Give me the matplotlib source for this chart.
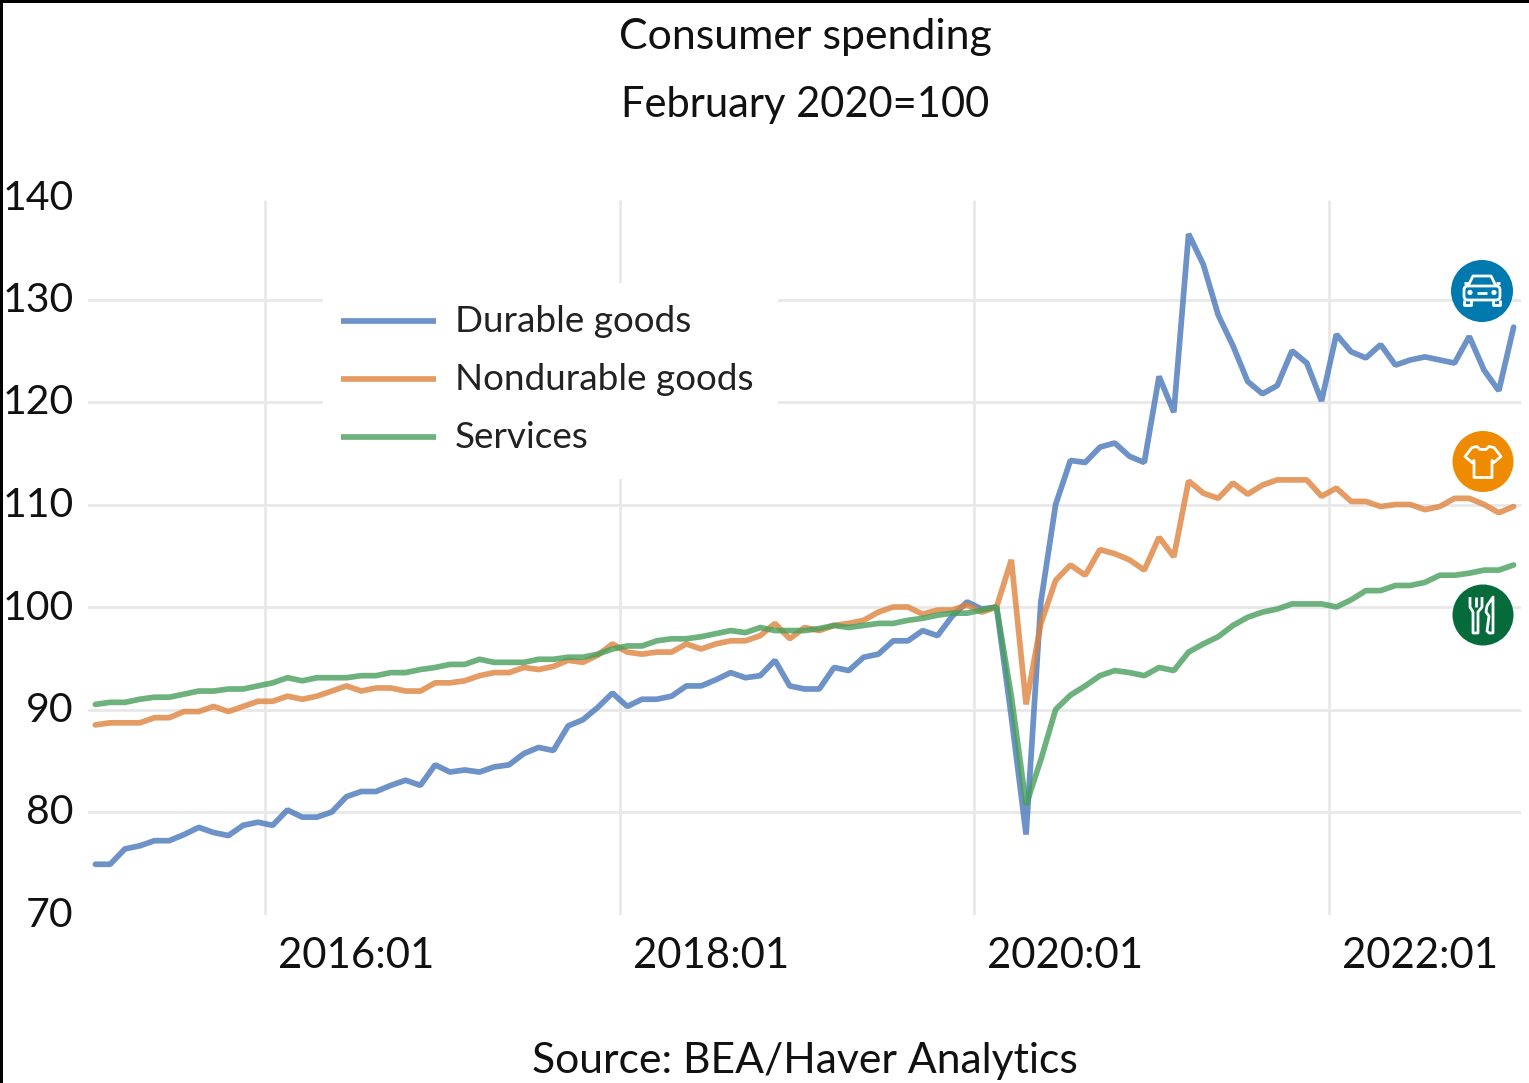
import numpy as np
import matplotlib
matplotlib.use("Agg")
import matplotlib.pyplot as plt
from matplotlib.patches import Circle, Polygon, Rectangle, FancyBboxPatch
from matplotlib.transforms import ScaledTranslation

plt.rcParams['font.family'] = ['Lato', 'DejaVu Sans']

# Monthly index, January 2015 onward
durable = [74.9,74.9,76.4,76.7,77.2,77.2,77.8,78.5,78.0,77.7,78.7,79.0,78.7,80.2,79.5,79.5,80.0,81.5,82.0,82.0,
           82.6,83.1,82.6,84.6,83.9,84.1,83.9,84.4,84.6,85.7,86.3,86.0,88.4,89.0,90.2,91.6,90.3,91.0,91.0,91.3,
           92.3,92.3,92.9,93.6,93.1,93.3,94.8,92.3,92.0,92.0,94.1,93.8,95.1,95.4,96.7,96.7,97.7,97.2,99.1,100.5,
           99.8,100.0,89.3,77.8,100.5,110.0,114.3,114.1,115.6,116.0,114.7,114.1,122.5,119.0,136.4,133.4,128.5,125.5,122.0,120.8,
           121.6,125.0,123.8,120.1,126.6,124.9,124.3,125.6,123.6,124.1,124.4,124.1,123.8,126.4,123.1,121.1,127.3]
nondurable = [88.5,88.7,88.7,88.7,89.2,89.2,89.8,89.8,90.3,89.8,90.3,90.8,90.8,91.3,91.0,91.3,91.8,92.3,91.8,92.1,
              92.1,91.8,91.8,92.6,92.6,92.8,93.3,93.6,93.6,94.1,93.9,94.2,94.8,94.6,95.3,96.4,95.6,95.4,95.6,95.6,
              96.4,95.9,96.4,96.7,96.7,97.2,98.4,96.9,98.0,97.7,98.2,98.4,98.7,99.5,100.0,100.0,99.3,99.7,99.7,100.2,
              99.5,100.0,104.6,90.5,98.4,102.6,104.1,103.1,105.6,105.2,104.6,103.6,106.8,104.9,112.3,111.1,110.6,112.1,111.0,111.9,
              112.4,112.4,112.4,110.8,111.6,110.3,110.3,109.8,110.0,110.0,109.5,109.8,110.6,110.6,110.0,109.2,109.8]
services = [90.5,90.7,90.7,91.0,91.2,91.2,91.5,91.8,91.8,92.0,92.0,92.3,92.6,93.1,92.8,93.1,93.1,93.1,93.3,93.3,
            93.6,93.6,93.9,94.1,94.4,94.4,94.9,94.6,94.6,94.6,94.9,94.9,95.1,95.1,95.4,95.9,96.2,96.2,96.7,96.9,
            96.9,97.1,97.4,97.7,97.5,98.0,97.7,97.7,97.7,97.9,98.2,98.0,98.2,98.4,98.4,98.7,98.9,99.2,99.4,99.4,
            99.7,100.0,91.3,80.7,85.1,90.0,91.4,92.3,93.3,93.8,93.6,93.3,94.1,93.8,95.6,96.4,97.1,98.2,99.0,99.5,
            99.8,100.3,100.3,100.3,100.0,100.7,101.6,101.6,102.1,102.1,102.4,103.1,103.1,103.3,103.6,103.6,104.1]
series_names = ['Durable goods', 'Nondurable goods', 'Services']
y_ticks = [70, 80, 90, 100, 110, 120, 130, 140]
year_labels = ['2016:01', '2018:01', '2020:01', '2022:01']
year_boundaries = [11.5, 35.5, 59.5, 83.5]

W, H = 1529, 1083
fig = plt.figure(figsize=(W / 100, H / 100), dpi=100, facecolor='white')
L, R, T, B = 88.0, 1521.0, 197.0, 914.5
ax = fig.add_axes([L / W, 1 - B / H, (R - L) / W, (B - T) / H])
ax.set_xlim(-0.5, 96.5)
ax.set_ylim(70, 140)
for s in ax.spines.values():
    s.set_visible(False)

GRID = '#e8e8e8'
for yv in y_ticks[1:-1]:
    ax.axhline(yv, color=GRID, lw=2.0, zorder=1)
for xv in year_boundaries:
    ax.plot([xv, xv], [69.8, 139.75], color=GRID, lw=2.0, zorder=1, solid_capstyle='butt')

x = np.arange(len(durable))
colors = ['#4777BA', '#DE833D', '#489F5D']
lines = []
for vals, c, n in zip([durable, nondurable, services], colors, series_names):
    ln, = ax.plot(x, vals, color=c, alpha=0.8, lw=4.1, solid_joinstyle='bevel',
                  solid_capstyle='round', label=n, zorder=3)
    lines.append(ln)

ax.set_yticks(y_ticks)
ax.set_yticklabels([str(v) for v in y_ticks], fontsize=29.5, color='#111111')
ax.tick_params(axis='y', length=0, pad=10.5)
for lab in ax.get_yticklabels():
    lab.set_transform(lab.get_transform() + ScaledTranslation(0, 2.5 / 100, fig.dpi_scale_trans))
ax.set_xticks([b + 6.16 for b in year_boundaries])
ax.set_xticklabels(year_labels, fontsize=30.2, color='#111111')
ax.tick_params(axis='x', length=0, pad=16)

# Pixel overlay for legend panel, titles, frame and icons
ov = fig.add_axes([0, 0, 1, 1], zorder=5)
ov.set_xlim(0, W)
ov.set_ylim(H, 0)
ov.axis('off')
ov.patch.set_alpha(0)

ov.add_patch(Rectangle((323, 283), 455, 196, fc='white', ec='none', zorder=1))
for ln, n, yp in zip(lines, series_names, [321, 379, 437]):
    ov.plot([341, 436], [yp, yp], color=ln.get_color(), alpha=0.8, lw=4.1, solid_capstyle='butt', zorder=2)
    ov.text(455, yp + 0.5, n, fontsize=26.6, va='center', ha='left', color='#222222', zorder=2)

ov.text(805, 37, 'Consumer spending', fontsize=30.9, ha='center', va='center', color='#111111')
ov.text(805, 105, 'February 2020=100', fontsize=30, ha='center', va='center', color='#111111')
ov.text(805, 1061, 'Source: BEA/Haver Analytics', fontsize=30.7, ha='center', va='center', color='#111111')

ov.add_patch(Rectangle((0, 0), 3, H, fc='black', ec='none'))
ov.add_patch(Rectangle((0, 0), W, 3, fc='black', ec='none'))

# Icons
LW = 2.0
def poly(cx, cy, pts, close=True, fc='none'):
    ov.add_patch(Polygon([(cx + a, cy + b) for a, b in pts], closed=close, fc=fc, ec='white',
                         lw=LW, joinstyle='round', zorder=7))

# car
cx, cy = 1482, 291
ov.add_patch(Circle((cx, cy), 31, fc='#0079AE', ec='none', zorder=6))
poly(cx, cy, [(-14, -5), (-9, -15), (9, -15), (14, -5)], close=False)
ov.add_patch(FancyBboxPatch((cx - 18, cy - 5), 36, 14, boxstyle='round,pad=0,rounding_size=4',
                            fc='none', ec='white', lw=LW, zorder=7))
poly(cx, cy, [(-18, 9), (-18, 14), (-11, 14), (-11, 9)], close=False)
poly(cx, cy, [(18, 9), (18, 14), (11, 14), (11, 9)], close=False)
poly(cx, cy, [(-18, -8), (-14, -8)], close=False)
poly(cx, cy, [(18, -8), (14, -8)], close=False)
ov.add_patch(Circle((cx - 12, cy + 1.5), 2.6, fc='white', ec='none', zorder=7))
ov.add_patch(Circle((cx + 12, cy + 1.5), 2.6, fc='white', ec='none', zorder=7))
poly(cx, cy, [(-5, 1.5), (5, 1.5)], close=False)

# shirt
cx, cy = 1483, 461.5
ov.add_patch(Circle((cx, cy), 30.5, fc='#EE8B00', ec='none', zorder=6))
poly(cx, cy, [(-6, -15), (-3, -12), (3, -12), (6, -15), (11, -14), (18, -5), (11, 1), (9, -1),
              (9, 16), (-9, 16), (-9, -1), (-11, 1), (-18, -5), (-11, -14)])

# cutlery
cx, cy = 1483, 615
ov.add_patch(Circle((cx, cy), 30.5, fc='#056B3A', ec='none', zorder=6))
poly(cx, cy, [(-13, -18), (-13, -8), (-10, -3), (-10, 18), (-5, 18), (-5, -3), (-1, -8), (-1, -18)], close=False)
poly(cx, cy, [(-7, -18), (-7, -8)], close=False)
poly(cx, cy, [(10, -18), (4, -9), (3, -3), (6, 1), (4, 16), (6, 18), (10, 18)])

fig.savefig('out.png', dpi=100, facecolor='white')
